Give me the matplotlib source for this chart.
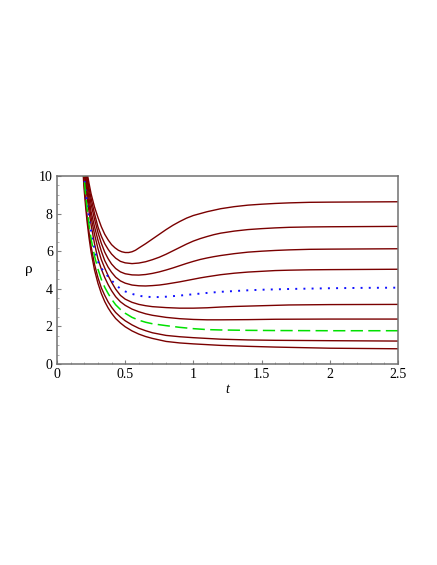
import numpy as np
import matplotlib
matplotlib.use("Agg")
import matplotlib.pyplot as plt
from matplotlib.ticker import MultipleLocator

# values (t, rho) for each curve
t1 = [0.19, 0.2, 0.21, 0.22, 0.235, 0.25, 0.275, 0.3, 0.325, 0.35, 0.375, 0.4, 0.425, 0.45, 0.475, 0.5, 0.525,
      0.55, 0.575, 0.6, 0.65, 0.7, 0.75, 0.8, 0.85, 0.9, 0.95, 1.0, 1.05, 1.1, 1.15, 1.2, 1.3, 1.4, 1.5, 1.6,
      1.7, 1.85, 2.0, 2.25, 2.5]
r1 = [12.3, 11.5, 10.8, 10.2, 9.6, 9.05, 8.35, 7.8, 7.3, 6.9, 6.6, 6.35, 6.18, 6.05, 5.97, 5.93, 5.93,
      5.97, 6.05, 6.17, 6.4, 6.65, 6.9, 7.15, 7.38, 7.58, 7.76, 7.9, 8.0, 8.1, 8.18, 8.26, 8.37, 8.45, 8.5, 8.54,
      8.57, 8.6, 8.61, 8.62, 8.63]

t2 = [0.19, 0.2, 0.21, 0.22, 0.235, 0.25, 0.275, 0.3, 0.325, 0.35, 0.375, 0.4, 0.43, 0.465, 0.5, 0.55, 0.6,
      0.65, 0.7, 0.75, 0.8, 0.85, 0.9, 0.95, 1.0, 1.05, 1.1, 1.15, 1.2, 1.3, 1.4, 1.5, 1.6, 1.7, 1.85, 2.0,
      2.25, 2.5]
r2 = [12.0, 11.2, 10.55, 10.0, 9.35, 8.8, 8.0, 7.3, 6.8, 6.4, 6.1, 5.85, 5.63, 5.46, 5.38, 5.34, 5.37,
      5.44, 5.55, 5.68, 5.84, 6.02, 6.2, 6.38, 6.54, 6.67, 6.78, 6.88, 6.96, 7.07, 7.15, 7.2, 7.24, 7.27, 7.29, 7.3,
      7.31, 7.32]

t3 = [0.19, 0.2, 0.21, 0.22, 0.235, 0.25, 0.275, 0.3, 0.325, 0.35, 0.375, 0.4, 0.43, 0.465, 0.5, 0.55, 0.6,
      0.65, 0.7, 0.75, 0.8, 0.85, 0.9, 0.95, 1.0, 1.05, 1.1, 1.15, 1.2, 1.3, 1.4, 1.5, 1.6, 1.7, 1.85, 2.0,
      2.25, 2.5]
r3 = [11.8, 11.0, 10.35, 9.8, 9.1, 8.5, 7.7, 7.0, 6.42, 5.95, 5.6, 5.32, 5.08, 4.9, 4.8, 4.74, 4.73,
      4.76, 4.82, 4.9, 5.0, 5.11, 5.23, 5.35, 5.46, 5.56, 5.64, 5.71, 5.77, 5.87, 5.95, 6.0, 6.04, 6.07, 6.1, 6.11,
      6.12, 6.13]

t4 = [0.19, 0.2, 0.21, 0.22, 0.235, 0.25, 0.275, 0.3, 0.325, 0.35, 0.375, 0.4, 0.43, 0.465, 0.5, 0.55, 0.6,
      0.65, 0.7, 0.75, 0.8, 0.85, 0.9, 0.95, 1.0, 1.05, 1.1, 1.2, 1.3, 1.4, 1.5, 1.6, 1.7, 1.85, 2.0, 2.25, 2.5]
r4 = [11.5, 10.7, 10.05, 9.5, 8.8, 8.1, 7.3, 6.6, 6.0, 5.5, 5.15, 4.88, 4.62, 4.42, 4.3, 4.2, 4.16,
      4.15, 4.17, 4.2, 4.25, 4.31, 4.37, 4.44, 4.51, 4.58, 4.64, 4.75, 4.83, 4.89, 4.93, 4.97, 4.99, 5.01, 5.02,
      5.03, 5.04]

tb = [0.19, 0.2, 0.21, 0.22, 0.235, 0.25, 0.265, 0.28, 0.3, 0.325, 0.35, 0.375, 0.4, 0.43, 0.465, 0.5, 0.54,
      0.575, 0.61, 0.65, 0.7, 0.75, 0.8, 0.85, 0.9, 1.0, 1.1, 1.2, 1.3, 1.4, 1.5, 1.7, 2.0, 2.25, 2.5]
rb = [10.6, 9.9, 9.2, 8.55, 7.75, 7.05, 6.45, 5.95, 5.45, 5.1, 4.85, 4.65, 4.45, 4.22, 4.0, 3.86, 3.75,
      3.68, 3.62, 3.58, 3.56, 3.56, 3.58, 3.61, 3.64, 3.71, 3.78, 3.84, 3.88, 3.92, 3.95, 3.99, 4.03, 4.05, 4.06]

t6 = [0.19, 0.2, 0.21, 0.22, 0.235, 0.25, 0.275, 0.3, 0.325, 0.35, 0.375, 0.4, 0.43, 0.465, 0.5, 0.55, 0.6,
      0.65, 0.7, 0.8, 0.9, 1.0, 1.1, 1.2, 1.3, 1.4, 1.5, 1.7, 2.0, 2.5]
r6 = [11.2, 10.4, 9.75, 9.2, 8.45, 7.8, 6.9, 6.15, 5.55, 5.1, 4.7, 4.35, 3.98, 3.65, 3.45, 3.28, 3.17,
      3.1, 3.05, 3.0, 2.97, 2.97, 2.99, 3.03, 3.06, 3.08, 3.1, 3.14, 3.16, 3.17]

t7 = [0.19, 0.2, 0.21, 0.22, 0.235, 0.25, 0.275, 0.3, 0.325, 0.35, 0.375, 0.4, 0.43, 0.465, 0.5, 0.55, 0.6,
      0.65, 0.7, 0.8, 0.9, 1.0, 1.1, 1.2, 1.4, 1.6, 2.0, 2.5]
r7 = [10.9, 10.1, 9.45, 8.9, 8.1, 7.4, 6.4, 5.6, 5.05, 4.6, 4.22, 3.9, 3.58, 3.31, 3.12, 2.92, 2.78,
      2.67, 2.59, 2.48, 2.41, 2.37, 2.35, 2.35, 2.36, 2.38, 2.39, 2.39]

tg = [0.19, 0.2, 0.21, 0.22, 0.235, 0.25, 0.275, 0.3, 0.325, 0.35, 0.375, 0.4, 0.43, 0.465, 0.5, 0.55, 0.6,
      0.65, 0.7, 0.8, 0.9, 1.0, 1.1, 1.2, 1.4, 1.6, 2.0, 2.5]
rg = [10.6, 9.8, 9.0, 8.3, 7.4, 6.65, 5.75, 5.05, 4.5, 4.08, 3.75, 3.45, 3.15, 2.9, 2.7, 2.48, 2.33,
      2.22, 2.14, 2.04, 1.95, 1.88, 1.83, 1.81, 1.79, 1.78, 1.77, 1.77]

t9 = [0.19, 0.2, 0.21, 0.22, 0.235, 0.25, 0.275, 0.3, 0.325, 0.35, 0.375, 0.4, 0.43, 0.465, 0.5, 0.55, 0.6,
      0.65, 0.7, 0.8, 0.9, 1.0, 1.1, 1.2, 1.4, 1.6, 2.0, 2.5]
r9 = [10.5, 9.5, 8.65, 7.9, 7.0, 6.25, 5.3, 4.6, 4.05, 3.65, 3.3, 3.02, 2.74, 2.5, 2.3, 2.08, 1.9,
      1.77, 1.66, 1.52, 1.45, 1.4, 1.36, 1.32, 1.28, 1.26, 1.24, 1.22]

t10 = [0.19, 0.2, 0.21, 0.22, 0.235, 0.25, 0.275, 0.3, 0.325, 0.35, 0.375, 0.4, 0.43, 0.465, 0.5, 0.55, 0.6,
       0.65, 0.7, 0.8, 0.9, 1.0, 1.1, 1.2, 1.4, 1.6, 2.0, 2.5]
r10 = [10.3, 9.2, 8.35, 7.6, 6.7, 5.95, 5.0, 4.3, 3.75, 3.32, 2.98, 2.7, 2.42, 2.18, 1.98, 1.76, 1.59,
       1.46, 1.36, 1.2, 1.12, 1.07, 1.03, 0.99, 0.94, 0.9, 0.84, 0.81]

red_curves = [(t1, r1), (t2, r2), (t3, r3), (t4, r4), (t6, r6), (t7, r7), (t9, r9), (t10, r10)]

plt.rcParams['font.family'] = ['Liberation Serif', 'DejaVu Serif']

fig = plt.figure(figsize=(4.37, 5.65), dpi=100)
ax = fig.add_axes([57 / 437, 1 - 364 / 565, 341 / 437, 188 / 565])

for t, r in red_curves:
    ax.plot(t, r, color='#7a0000', lw=1.0, solid_joinstyle='round')
ax.plot(tb, rb, color='#1010ff', lw=1.4, linestyle=(0, (1, 3.2)))
ax.plot(tg, rg, color='#00e000', lw=1.1, linestyle=(0, (8, 3.5)))

ax.set_xlim(0, 2.5)
ax.set_ylim(0, 10)
ax.set_xticks([0, 0.5, 1, 1.5, 2, 2.5])
ax.set_xticklabels(['0', '0.5', '1', '1.5', '2', '2.5'])
ax.set_yticks([0, 2, 4, 6, 8, 10])
ax.xaxis.set_minor_locator(MultipleLocator(0.1))
ax.yaxis.set_minor_locator(MultipleLocator(0.5))
ax.tick_params(which='major', direction='in', length=3, width=0.8, color='#808080',
               labelsize=10, pad=3)
ax.tick_params(which='minor', direction='in', length=1.5, width=0.6, color='#a0a0a0')

for s in ax.spines.values():
    s.set_color('#707070')
    s.set_linewidth(1.1)

ax.set_xlabel('t', fontsize=10, style='italic', labelpad=1)
ax.set_ylabel('ρ', fontsize=11, rotation=0, labelpad=7, va='center')

plt.savefig('out.png', dpi=100)
